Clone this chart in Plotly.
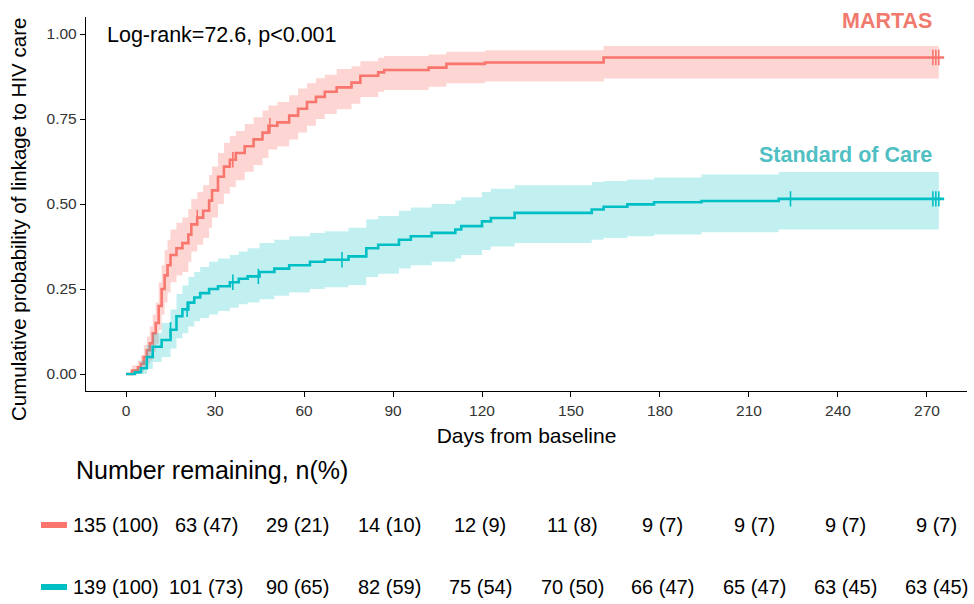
import plotly.graph_objects as go

# ---------------- data ----------------
martas_t = [0, 2, 4, 5, 6, 7, 8, 9, 10, 11, 12, 13, 14, 15, 17, 19, 21, 22, 24, 26, 28, 29, 31, 33, 35, 37, 40, 43,
            46, 48, 51, 55, 58, 61, 64, 67, 71, 76, 79, 85, 87, 102, 108, 121, 161, 274]
martas_s = [0, 0.01, 0.02, 0.03, 0.05, 0.07, 0.09, 0.12, 0.15, 0.20, 0.25, 0.29, 0.32, 0.35, 0.37, 0.385, 0.41, 0.44,
            0.46, 0.48, 0.51, 0.54, 0.58, 0.61, 0.63, 0.65, 0.67, 0.69, 0.71, 0.73, 0.74, 0.76, 0.78, 0.80, 0.815, 0.83,
            0.843, 0.857, 0.877, 0.887, 0.894, 0.901, 0.912, 0.916, 0.931, 0.931]
martas_lo = [0, 0.0, 0.0, 0.005, 0.015, 0.03, 0.04, 0.065, 0.09, 0.13, 0.175, 0.21, 0.24, 0.27, 0.29, 0.30, 0.33, 0.36,
             0.38, 0.40, 0.43, 0.46, 0.50, 0.53, 0.55, 0.57, 0.595, 0.615, 0.635, 0.66, 0.67, 0.69, 0.71, 0.73, 0.75,
             0.765, 0.779, 0.795, 0.815, 0.83, 0.835, 0.845, 0.855, 0.86, 0.869, 0.869]
martas_hi = [0, 0.025, 0.04, 0.055, 0.085, 0.11, 0.14, 0.175, 0.21, 0.27, 0.32, 0.365, 0.395, 0.425, 0.445, 0.46, 0.485,
             0.515, 0.535, 0.555, 0.585, 0.61, 0.65, 0.68, 0.70, 0.715, 0.735, 0.755, 0.775, 0.79, 0.80, 0.82, 0.84,
             0.855, 0.87, 0.88, 0.897, 0.905, 0.92, 0.93, 0.935, 0.94, 0.948, 0.952, 0.965, 0.965]
martas_cens = [24, 36, 48.5, 272, 273, 274]

soc_t = [0, 3, 5, 7, 9, 12, 15, 17, 19, 21, 23, 25, 28, 31, 35, 38, 41, 45, 50, 55, 62, 67, 75, 81, 85, 92, 96, 103,
         111, 113, 120, 123, 131, 157, 161, 169, 178, 194, 220, 274]
soc_s = [0, 0.005, 0.017, 0.05, 0.08, 0.10, 0.13, 0.17, 0.19, 0.21, 0.225, 0.238, 0.25, 0.258, 0.27, 0.28, 0.287,
         0.30, 0.31, 0.32, 0.33, 0.336, 0.346, 0.37, 0.38, 0.395, 0.405, 0.415, 0.425, 0.435, 0.449, 0.459, 0.474,
         0.484, 0.492, 0.499, 0.505, 0.509, 0.515, 0.515]
soc_lo = [0, 0.0, 0.0, 0.015, 0.035, 0.05, 0.075, 0.105, 0.12, 0.14, 0.155, 0.165, 0.175, 0.185, 0.195, 0.205, 0.21,
          0.22, 0.23, 0.24, 0.25, 0.255, 0.262, 0.285, 0.295, 0.31, 0.32, 0.33, 0.34, 0.35, 0.365, 0.375, 0.385,
          0.395, 0.40, 0.405, 0.41, 0.417, 0.425, 0.425]
soc_hi = [0, 0.015, 0.04, 0.085, 0.12, 0.15, 0.19, 0.235, 0.26, 0.285, 0.30, 0.315, 0.33, 0.34, 0.35, 0.36, 0.37,
          0.385, 0.395, 0.405, 0.415, 0.42, 0.43, 0.455, 0.465, 0.48, 0.49, 0.50, 0.51, 0.52, 0.535, 0.545, 0.555,
          0.565, 0.568, 0.572, 0.578, 0.587, 0.594, 0.594]
soc_cens = [15, 20.6, 36, 44.6, 72.8, 224, 272, 273, 274]

x_ticks = [0, 30, 60, 90, 120, 150, 180, 210, 240, 270]
y_ticks = [0, 0.25, 0.5, 0.75, 1.0]
y_tick_labels = ["0.00", "0.25", "0.50", "0.75", "1.00"]

risk_martas = ["135 (100)", "63 (47)", "29 (21)", "14 (10)", "12 (9)", "11 (8)", "9 (7)", "9 (7)", "9 (7)", "9 (7)"]
risk_soc = ["139 (100)", "101 (73)", "90 (65)", "82 (59)", "75 (54)", "70 (50)", "66 (47)", "65 (47)", "63 (45)", "63 (45)"]

RED = "#F8766D"
TEAL = "#00BFC4"

# ---------------- layout geometry (pixels) ----------------
W, H = 974, 604
L, R, T, B = 86, 7, 17, 213
pw, ph = W - L - R, H - T - B


def px_x(p):
    return (p - L) / pw


def px_y(p):
    return (H - B - p) / ph


def step_at(ts, ss, t):
    v = ss[0]
    for ti, si in zip(ts, ss):
        if ti <= t:
            v = si
    return v


fig = go.Figure()

for ts, ss, lo, hi, cens, col, fillc in [
    (martas_t, martas_s, martas_lo, martas_hi, martas_cens, RED, "rgba(248,118,109,0.30)"),
    (soc_t, soc_s, soc_lo, soc_hi, soc_cens, TEAL, "rgba(0,191,196,0.24)"),
]:
    fig.add_trace(go.Scatter(x=ts, y=lo, mode="lines", line=dict(width=0, shape="hv"),
                             hoverinfo="skip", showlegend=False))
    fig.add_trace(go.Scatter(x=ts, y=hi, mode="lines", line=dict(width=0, shape="hv"),
                             fill="tonexty", fillcolor=fillc, hoverinfo="skip", showlegend=False))
    fig.add_trace(go.Scatter(x=ts + [275.8], y=ss + [ss[-1]], mode="lines",
                             line=dict(color=col, width=2.6, shape="hv"), showlegend=False))
    fig.add_trace(go.Scatter(x=cens, y=[step_at(ts, ss, c) for c in cens], mode="markers",
                             marker=dict(symbol="line-ns", size=11, line=dict(color=col, width=1.6)),
                             showlegend=False))

FONT = "Liberation Sans, Arial, sans-serif"

fig.update_layout(
    width=W, height=H,
    margin=dict(l=L, r=R, t=T, b=B),
    plot_bgcolor="white", paper_bgcolor="white",
    font=dict(family=FONT, color="black"),
    xaxis=dict(range=[-13.5, 283.5], tickvals=x_ticks, showgrid=False, zeroline=False,
               showline=True, linecolor="black", linewidth=1.4,
               ticks="outside", ticklen=5, tickcolor="black", tickwidth=1.2,
               tickfont=dict(size=15.5, color="#333333"),
               title=dict(text="Days from baseline", font=dict(size=21), standoff=10)),
    yaxis=dict(range=[-0.05, 1.05], tickvals=y_ticks, ticktext=y_tick_labels, showgrid=False, zeroline=False,
               showline=True, linecolor="black", linewidth=1.4,
               ticks="outside", ticklen=5, tickcolor="black", tickwidth=1.2,
               tickfont=dict(size=15.5, color="#333333")),
)

ann = [
    dict(text="Cumulative probability of linkage to HIV care", x=px_x(19), y=px_y(220), textangle=-90,
         xanchor="center", yanchor="middle", font=dict(size=20.5)),
    dict(text="Log-rank=72.6, p<0.001", x=px_x(105), y=px_y(35), xanchor="left", yanchor="middle",
         font=dict(size=21.5)),
    dict(text="<b>MARTAS</b>", x=px_x(934), y=px_y(21), xanchor="right", yanchor="middle",
         font=dict(size=21.5, color="#F07A6E")),
    dict(text="<b>Standard of Care</b>", x=px_x(934), y=px_y(155), xanchor="right", yanchor="middle",
         font=dict(size=21.5, color="#4FBFC3")),
    dict(text="Number remaining, n(%)", x=px_x(74), y=px_y(470), xanchor="left", yanchor="middle",
         font=dict(size=25)),
]

row_centers = [116, 206, 297, 389, 480, 572, 662, 754, 845, 936]
for i, c in enumerate(row_centers):
    ann.append(dict(text=risk_martas[i], x=px_x(c), y=px_y(525), xanchor="center", yanchor="middle",
                    font=dict(size=20)))
    ann.append(dict(text=risk_soc[i], x=px_x(c), y=px_y(587), xanchor="center", yanchor="middle",
                    font=dict(size=20)))

for a in ann:
    a.update(xref="paper", yref="paper", showarrow=False)
fig.update_layout(annotations=ann)

for py, col in [(525, RED), (587, TEAL)]:
    fig.add_shape(type="rect", xref="paper", yref="paper", x0=px_x(41), x1=px_x(67),
                  y0=px_y(py + 3), y1=px_y(py - 3), fillcolor=col, line=dict(width=0))

fig.write_html("out.html", config={"displayModeBar": False},
               post_script="document.body.style.margin='0';document.body.style.overflow='hidden';")
